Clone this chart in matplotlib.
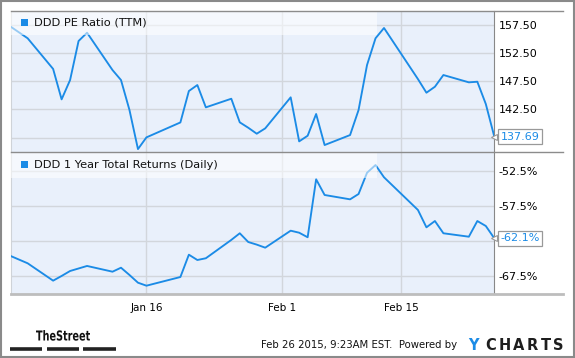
import numpy as np
import matplotlib.pyplot as plt
from matplotlib.patches import Rectangle, PathPatch
from matplotlib.lines import Line2D
from matplotlib.textpath import TextPath
from matplotlib.font_manager import FontProperties
from matplotlib.transforms import Affine2D

# trading days shown on the chart
dates = ['2014-12-31', '2015-01-02', '2015-01-05', '2015-01-06', '2015-01-07',
         '2015-01-08', '2015-01-09', '2015-01-12', '2015-01-13', '2015-01-14',
         '2015-01-15', '2015-01-16', '2015-01-20', '2015-01-21', '2015-01-22',
         '2015-01-23', '2015-01-26', '2015-01-27', '2015-01-28', '2015-01-29',
         '2015-01-30', '2015-02-02', '2015-02-03', '2015-02-04', '2015-02-05',
         '2015-02-06', '2015-02-09', '2015-02-10', '2015-02-11', '2015-02-12',
         '2015-02-13', '2015-02-17', '2015-02-18', '2015-02-19', '2015-02-20',
         '2015-02-23', '2015-02-24', '2015-02-25', '2015-02-26']

pe_ratio = [157.2, 155.14, 149.7, 144.3, 147.73, 154.66, 156.13,
            149.5, 147.73, 142.4, 135.47, 137.55,
            140.2, 145.78, 146.84, 142.88,
            144.41, 140.22, 139.26, 138.2, 139.15,
            144.66, 136.84, 137.84, 141.7, 136.19,
            137.96, 142.4, 150.4, 155.14, 156.97,
            147.9, 145.48, 146.54, 148.62,
            147.32, 147.43, 143.47, 137.69]

total_returns = [-64.69, -65.73, -68.21, -67.54, -66.83, -66.47, -66.11,
                 -66.93, -66.36, -67.4, -68.5, -68.93,
                 -67.69, -64.5, -65.26, -65.01,
                 -62.39, -61.44, -62.69, -63.06, -63.5,
                 -61.07, -61.36, -62.01, -53.73, -55.97,
                 -56.59, -55.83, -52.79, -51.69, -53.44,
                 -58.11, -60.59, -59.69, -61.44,
                 -61.93, -59.69, -60.4, -62.16]

pe_ticks = [137.5, 142.5, 147.5, 152.5, 157.5]
pe_labels = ['', '142.50', '147.50', '152.50', '157.50']
ret_ticks = [-67.5, -62.5, -57.5, -52.5]
ret_labels = ['-67.5%', '', '-57.5%', '-52.5%']
x_ticks = ['2015-01-16', '2015-02-01', '2015-02-15']
x_labels = ['Jan 16', 'Feb 1', 'Feb 15']

W, H = 575, 358
blue = '#1b8be6'
bg = '#e9f0fb'
grid = '#d2d6dc'

x = np.array(dates, dtype='datetime64[D]')
xt = np.array(x_ticks, dtype='datetime64[D]')


def fx(px):
    return px / W


def fy(py):
    return 1 - py / H


fig = plt.figure(figsize=(5.75, 3.58), dpi=100)

left, right = 10.7, 494.3
ax1 = fig.add_axes([fx(left), fy(152.3), fx(right - left), (152.3 - 10.7) / H])
ax2 = fig.add_axes([fx(left), fy(294.3), fx(right - left), (294.3 - 152.3) / H])

panels = [
    (ax1, pe_ratio, (134.9, 160.04), pe_ticks, pe_labels, 'DDD PE Ratio (TTM)', '137.69', 0.172),
    (ax2, total_returns, (-70.16, -49.87), ret_ticks, ret_labels, 'DDD 1 Year Total Returns (Daily)', '-62.1%', 0.179),
]

for ax, vals, ylim, yt, yl, name, last, band in panels:
    ax.set_facecolor(bg)
    ax.plot(x, vals, color=blue, lw=1.35, zorder=3)
    ax.set_xlim(np.datetime64('2014-12-31'), np.datetime64('2015-02-26'))
    ax.set_ylim(*ylim)
    ax.yaxis.tick_right()
    ax.set_yticks(yt)
    ax.set_yticklabels(yl)
    ax.set_xticks(xt)
    ax.tick_params(axis='both', length=0, labelsize=8, colors='black')
    ax.tick_params(axis='y', pad=3)
    ax.grid(True, color=grid, lw=1)
    ax.set_axisbelow(True)
    for s in ax.spines.values():
        s.set_visible(False)
    ax.spines['right'].set_visible(True)
    ax.spines['right'].set_color('#888888')
    ax.spines['left'].set_visible(True)
    ax.spines['left'].set_color('#cfd3d8')

    # legend band
    ax.add_patch(Rectangle((0, 1 - band), 0.757, band, transform=ax.transAxes,
                           facecolor='white', alpha=0.55, lw=0, zorder=4))
    ax.add_patch(Rectangle((0.022, 1 - band / 2 - 0.024), 0.0145, 0.052,
                           transform=ax.transAxes, facecolor=blue, lw=0, zorder=5))
    ax.text(0.048, 1 - band / 2, name, transform=ax.transAxes, fontsize=8.2,
            va='center', ha='left', color='#111111', zorder=5)

    # last value box with a small pointer
    ax.annotate(last, xy=(1, vals[-1]), xycoords=('axes fraction', 'data'),
                xytext=(4.5, 0), textcoords='offset points', fontsize=8, color=blue,
                va='center', ha='left', annotation_clip=False, zorder=6,
                bbox=dict(boxstyle='square,pad=0.22', fc='white', ec='#999999', lw=0.9))
    ax.plot([1.0], [vals[-1]], marker='<', ms=5, mfc='white', mec='#999999', mew=0.8,
            transform=ax.get_yaxis_transform(), clip_on=False, zorder=7)

ax1.tick_params(axis='x', labelbottom=False)
ax2.set_xticklabels(x_labels)
ax2.tick_params(axis='x', pad=6, labelsize=7.5)

# horizontal rules that run past the plot
for py, c, lw in [(10.7, '#8c8c8c', 1.0), (152.3, '#8c8c8c', 1.0), (294.3, '#bdbdbd', 2.0)]:
    fig.add_artist(Line2D([fx(left), fx(563)], [fy(py), fy(py)], color=c, lw=lw))

# outer border
fig.add_artist(Rectangle((0.001, 0.002), 0.997, 0.995, transform=fig.transFigure,
                         fill=False, ec='#8a8a8a', lw=1.5))

# footer: condensed "TheStreet" logo
tp = TextPath((0, 0), 'TheStreet', size=14, prop=FontProperties(family='DejaVu Sans', weight='bold'))
ext = tp.get_extents()
sx = 54 / ext.width
logo = Affine2D().translate(-ext.x0, 0).scale(sx, 0.98).translate(36, H - 340.5)
fig.add_artist(PathPatch(tp, transform=logo, fc='#111111', ec='none'))
for x0, x1 in [(10, 42), (47, 79), (83, 116)]:
    fig.add_artist(Line2D([fx(x0), fx(x1)], [fy(348.7), fy(348.7)], color='#222222',
                          lw=2.6, solid_capstyle='butt'))

fig.text(fx(457), fy(345.5), 'Feb 26 2015, 9:23AM EST.  Powered by', fontsize=7.3,
         ha='right', va='center', color='#111111')
fig.text(fx(473), fy(345.5), 'Y', fontsize=10.5, fontweight='bold', ha='center',
         va='center', color=blue)
for ch, cx in zip('CHARTS', [491, 505, 518.5, 532, 545.5, 558.5]):
    fig.text(fx(cx), fy(345.5), ch, fontsize=10.5, fontweight='bold', ha='center',
             va='center', color='#1e1e1e')

fig.savefig('out.png', dpi=100)
